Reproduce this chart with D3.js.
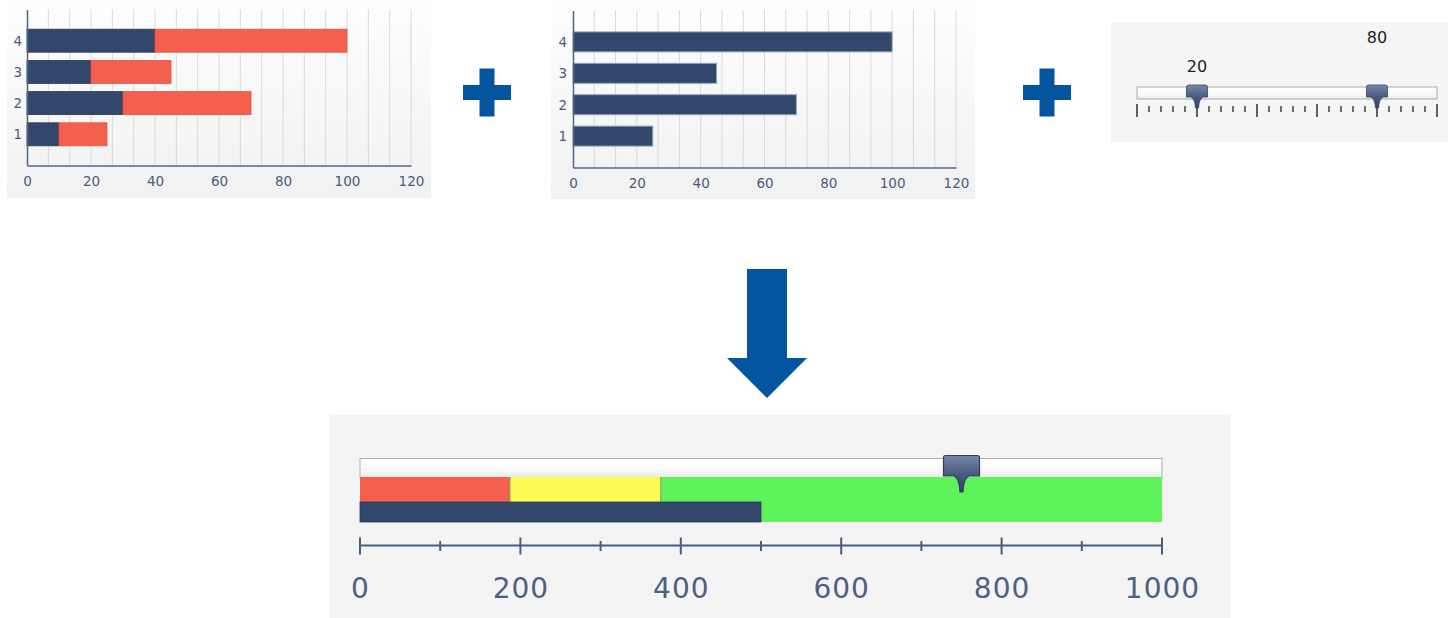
<!DOCTYPE html>
<html><head><meta charset="utf-8">
<script src="https://cdn.jsdelivr.net/npm/d3@7"></script>
<style>html,body{margin:0;padding:0;background:#fff;}svg{display:block;}</style>
</head><body>
<script>
// ---------- data ----------
const categories = [1, 2, 3, 4];
const stackFirst = [10, 30, 20, 40];     // dark part of stacked bars
const stackSecond = [15, 40, 25, 60];    // red part of stacked bars
const barValues = [25, 70, 45, 100];     // simple bar chart
const barTicks = [0, 20, 40, 60, 80, 100, 120];
const sliderValues = [20, 80];
const sliderMajor = [0, 20, 40, 60, 80, 100];
const bandLimits = [0, 187, 375, 1000];
const bandNames = ["poor", "ok", "good"];
const actualValue = [500];
const targetValue = [750];
const bulletMajor = [0, 200, 400, 600, 800, 1000];
const bulletMinor = [100, 300, 500, 700, 900];

const W = 1449, H = 618;
const NAVY = "#33466b", RED = "#f5604e", BLUE = "#04559f", AXIS = "#53648a", LABEL = "#4a5b7e";
const FONT = "DejaVu Sans, Verdana, sans-serif";

const svg = d3.select("body").append("svg").attr("width", W).attr("height", H);
const defs = svg.append("defs");
const pg = defs.append("linearGradient").attr("id","panel").attr("x1",0).attr("y1",0).attr("x2",0).attr("y2",1);
pg.append("stop").attr("offset","0").attr("stop-color","#fefefe");
pg.append("stop").attr("offset","1").attr("stop-color","#f1f1f1");
const tg = defs.append("linearGradient").attr("id","thumb").attr("x1",0).attr("y1",0).attr("x2",0).attr("y2",1);
tg.append("stop").attr("offset","0").attr("stop-color","#7488a8");
tg.append("stop").attr("offset","0.5").attr("stop-color","#4a5d80");
tg.append("stop").attr("offset","1").attr("stop-color","#2f4165");
const trg = defs.append("linearGradient").attr("id","track").attr("x1",0).attr("y1",0).attr("x2",0).attr("y2",1);
trg.append("stop").attr("offset","0").attr("stop-color","#ffffff");
trg.append("stop").attr("offset","0.6").attr("stop-color","#fafafa");
trg.append("stop").attr("offset","1").attr("stop-color","#e8e8e8");

// ---------- generic bar panel ----------
function barPanel(opts) {
  const g = svg.append("g");
  g.append("rect").attr("x", opts.px0).attr("y", 0).attr("width", opts.px1 - opts.px0).attr("height", opts.py1)
    .attr("fill", "url(#panel)");
  const x = d3.scaleLinear().domain([0, 120]).range(opts.xr);
  const y = d3.scaleLinear().domain([0, 5]).range(opts.yr);
  const grid = d3.range(1, 19).map(i => i * 120 / 18);
  g.selectAll("line.grid").data(grid).join("line").attr("class","grid")
    .attr("x1", d => x(d)).attr("x2", d => x(d)).attr("y1", y(5)).attr("y2", y(0))
    .attr("stroke", "#d9d9d9").attr("stroke-width", 1);
  opts.draw(g, x, y);
  const xa = g.append("g").attr("transform", `translate(0,${y(0)})`)
    .call(d3.axisBottom(x).tickValues(barTicks).tickSize(0).tickPadding(11).tickFormat(d3.format("d")));
  xa.select(".domain").attr("stroke", AXIS).attr("stroke-width", 1.5);
  xa.selectAll("text").attr("fill", LABEL).style("font", `13.5px ${FONT}`);
  const ya = g.append("g").attr("transform", `translate(${x(0)},0)`)
    .call(d3.axisLeft(y).tickValues(categories).tickSize(0).tickPadding(opts.yPad).tickFormat(d3.format("d")));
  ya.select(".domain").attr("stroke", AXIS).attr("stroke-width", 1.5);
  ya.selectAll("text").attr("fill", LABEL).style("font", `13.5px ${FONT}`);
}

// Chart 1: stacked
barPanel({
  px0: 7, px1: 431, py1: 198, xr: [27, 411], yr: [165.5, 9.5], yPad: 5,
  draw: (g, x, y) => {
    const bh = 23;
    const rows = categories.map((c, i) => ({ c, a: stackFirst[i], b: stackSecond[i] }));
    g.selectAll("rect.s1").data(rows).join("rect")
      .attr("x", x(0)).attr("y", d => y(d.c) - bh / 2)
      .attr("width", d => x(d.a) - x(0)).attr("height", bh)
      .attr("fill", NAVY).attr("stroke", "#28385a").attr("stroke-width", 0.8);
    g.selectAll("rect.s2").data(rows).join("rect")
      .attr("x", d => x(d.a)).attr("y", d => y(d.c) - bh / 2)
      .attr("width", d => x(d.a + d.b) - x(d.a)).attr("height", bh)
      .attr("fill", RED).attr("stroke", "#de5444").attr("stroke-width", 0.8);
  }
});

// Chart 2: simple bars
barPanel({
  px0: 551, px1: 975, py1: 199, xr: [573, 956], yr: [167.5, 10.5], yPad: 6,
  draw: (g, x, y) => {
    const bh = 20;
    g.selectAll("rect.b").data(categories.map((c, i) => ({ c, v: barValues[i] }))).join("rect")
      .attr("x", x(0)).attr("y", d => y(d.c) - bh / 2)
      .attr("width", d => x(d.v) - x(0)).attr("height", bh)
      .attr("fill", NAVY).attr("stroke", "#9aa6bb").attr("stroke-width", 1);
  }
});

// ---------- plus signs ----------
function plus(cx, cy) {
  const L = 24, T = 7.5;
  svg.append("path").attr("fill", BLUE)
    .attr("d", `M${cx - T},${cy - L} H${cx + T} V${cy - T} H${cx + L} V${cy + T} H${cx + T} V${cy + L} H${cx - T} V${cy + T} H${cx - L} V${cy - T} H${cx - T} Z`);
}
plus(487, 92.5);
plus(1047, 92.5);

// ---------- thumb shape ----------
function thumbPath(cx, w, top, bot, tip, pw) {
  const l = cx - w / 2, r = cx + w / 2;
  return `M${l + 2},${top} H${r - 2} Q${r},${top} ${r},${top + 2} V${bot} H${cx + pw}` +
    ` Q${cx + 2},${bot + 2} ${cx + 1.5},${tip} H${cx - 1.5} Q${cx - 2},${bot + 2} ${cx - pw},${bot}` +
    ` H${l} V${top + 2} Q${l},${top} ${l + 2},${top} Z`;
}

// ---------- Chart 3: slider ----------
{
  const g = svg.append("g");
  g.append("rect").attr("x", 1111).attr("y", 22).attr("width", 337).attr("height", 120).attr("fill", "#f5f5f5");
  const s = d3.scaleLinear().domain([0, 100]).range([1137, 1437]);
  g.append("rect").attr("x", s(0)).attr("y", 87).attr("width", s(100) - s(0)).attr("height", 12)
    .attr("fill", "url(#track)").attr("stroke", "#aaaaaa").attr("stroke-width", 1);
  const minor = d3.range(0, 101, 4).filter(v => v % 20 !== 0);
  g.selectAll("line.mi").data(minor).join("line")
    .attr("x1", d => s(d)).attr("x2", d => s(d)).attr("y1", 106).attr("y2", 112)
    .attr("stroke", "#222").attr("stroke-width", 1.3);
  g.selectAll("line.ma").data(sliderMajor).join("line")
    .attr("x1", d => s(d)).attr("x2", d => s(d)).attr("y1", 104).attr("y2", 117)
    .attr("stroke", "#222").attr("stroke-width", 1.4);
  g.selectAll("path.th").data(sliderValues).join("path")
    .attr("d", d => thumbPath(s(d), 21, 85, 97, 108, 6))
    .attr("fill", "url(#thumb)").attr("stroke", "#34476b").attr("stroke-width", 0.8);
  const labelY = [72, 43];
  g.selectAll("text.sl").data(sliderValues).join("text")
    .attr("x", d => s(d)).attr("y", (d, i) => labelY[i]).attr("text-anchor", "middle")
    .attr("fill", "#222").style("font", `16px ${FONT}`).text(d => d);
}

// ---------- arrow ----------
svg.append("path").attr("fill", BLUE)
  .attr("d", "M747,269 H787 V358 H807 L767,398 L727,358 H747 Z");

// ---------- Bullet chart ----------
{
  const g = svg.append("g");
  g.append("rect").attr("x", 330).attr("y", 415).attr("width", 900).attr("height", 203).attr("fill", "#f4f4f4");
  const x = d3.scaleLinear().domain([0, 1000]).range([360, 1162]);
  g.append("rect").attr("x", x(0)).attr("y", 458.5).attr("width", x(1000) - x(0)).attr("height", 19)
    .attr("fill", "url(#track)").attr("stroke", "#b0b0b0").attr("stroke-width", 1);
  const bandColors = ["#f5604e", "#fcfc55", "#5ef35a"];
  const bands = bandNames.map((n, i) => ({ n, a: bandLimits[i], b: bandLimits[i + 1], c: bandColors[i] }));
  g.selectAll("rect.band").data(bands).join("rect")
    .attr("x", d => x(d.a)).attr("y", 477).attr("width", d => x(d.b) - x(d.a)).attr("height", 45)
    .attr("fill", d => d.c);
  g.selectAll("line.bsep").data(bandLimits.slice(1, 3)).join("line")
    .attr("x1", d => x(d)).attr("x2", d => x(d)).attr("y1", 477).attr("y2", 502)
    .attr("stroke", "#9a9a60").attr("stroke-width", 1);
  g.selectAll("rect.act").data(actualValue).join("rect")
    .attr("x", x(0)).attr("y", 502).attr("width", d => x(d) - x(0)).attr("height", 20)
    .attr("fill", NAVY).attr("stroke", "#2a3b5d").attr("stroke-width", 0.8);
  g.selectAll("path.tgt").data(targetValue).join("path")
    .attr("d", d => thumbPath(x(d), 36, 455.5, 476, 492, 7.5))
    .attr("fill", "url(#thumb)").attr("stroke", "#2e3f60").attr("stroke-width", 1.2);
  g.append("line").attr("x1", x(0)).attr("x2", x(1000)).attr("y1", 545.5).attr("y2", 545.5)
    .attr("stroke", "#4a5d80").attr("stroke-width", 2.2);
  g.selectAll("line.bma").data(bulletMajor).join("line")
    .attr("x1", d => x(d)).attr("x2", d => x(d)).attr("y1", 537.5).attr("y2", 554.5)
    .attr("stroke", "#4a5d80").attr("stroke-width", 2);
  g.selectAll("line.bmi").data(bulletMinor).join("line")
    .attr("x1", d => x(d)).attr("x2", d => x(d)).attr("y1", 541).attr("y2", 551)
    .attr("stroke", "#4a5d80").attr("stroke-width", 2);
  g.selectAll("text.bl").data(bulletMajor).join("text")
    .attr("x", d => x(d) + 0.5).attr("y", 598).attr("text-anchor", "middle")
    .attr("fill", "#4d6083").style("font", `28px ${FONT}`).style("letter-spacing", "1px")
    .text(d => d);
}
</script>
</body></html>
